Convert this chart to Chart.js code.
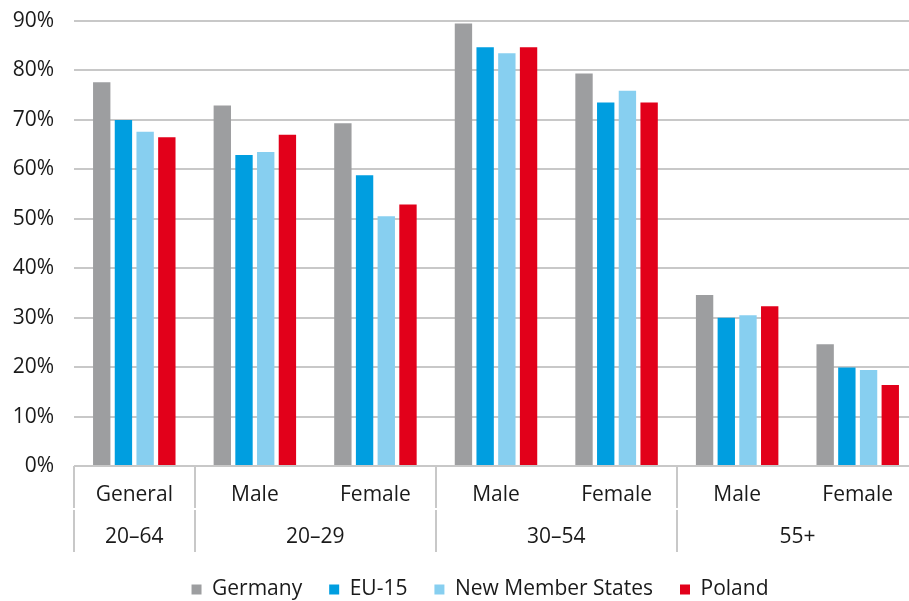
<!DOCTYPE html>
<html>
<head>
<meta charset="utf-8">
<script src="https://cdn.jsdelivr.net/npm/chart.js@4/dist/chart.umd.min.js"></script>
<style>
  html, body { margin: 0; padding: 0; background: #fff; overflow: hidden; }
  #wrap { width: 909px; height: 601px; overflow: hidden; }
  canvas { display: block; }
</style>
</head>
<body>
<div id="wrap"><canvas id="c" width="918" height="601"></canvas></div>
<script>
// Employment rate by age group and sex
const categories = ['General', 'Male', 'Female', 'Male', 'Female', 'Male', 'Female'];
const groupLabels = ['20–64', '20–29', '30–54', '55+'];
const groupSpans = [1, 2, 2, 2];
const yTicks = [0, 10, 20, 30, 40, 50, 60, 70, 80, 90];

const germany = [77.6, 72.9, 69.3, 89.5, 79.4, 34.6, 24.6];
const eu15    = [70.0, 62.9, 58.8, 84.7, 73.5, 30.0, 19.9];
const nms     = [67.6, 63.5, 50.5, 83.5, 75.9, 30.5, 19.4];
const poland  = [66.5, 67.0, 52.9, 84.7, 73.5, 32.3, 16.4];

const FONT = '"Open Sans", "Noto Sans", sans-serif';
const FONT_SIZE = 21;
const TEXT = '#1a1a1a';
const GRID = '#c8c8c8';

// Second row of the x axis: age-group labels and separators
const groupAxis = {
  id: 'groupAxis',
  afterLayout(chart) {
    // centre the legend a little to the right of the canvas middle
    if (chart.legend) chart.legend.left = 42;
  },
  afterDraw(chart) {
    const { ctx, chartArea } = chart;
    const x = chart.scales.x;
    const top = chartArea.bottom;
    ctx.save();
    ctx.strokeStyle = GRID;
    ctx.lineWidth = 2;
    let start = 0;
    const bounds = [0];
    groupSpans.forEach(s => { start += s; bounds.push(start); });
    bounds.forEach(b => {
      const px = Math.round(x.getPixelForValue(b - 0.5));
      ctx.beginPath();
      ctx.moveTo(px, top);
      ctx.lineTo(px, top + 42);
      ctx.moveTo(px, top + 44);
      ctx.lineTo(px, top + 86);
      ctx.stroke();
    });
    ctx.fillStyle = TEXT;
    ctx.font = FONT_SIZE + 'px ' + FONT;
    ctx.textAlign = 'center';
    ctx.textBaseline = 'middle';
    groupLabels.forEach((g, i) => {
      const a = x.getPixelForValue(bounds[i] - 0.5);
      const b = x.getPixelForValue(bounds[i + 1] - 0.5);
      ctx.fillText(g, (a + b) / 2, top + 71);
    });
    ctx.restore();
  }
};

new Chart(document.getElementById('c'), {
  type: 'bar',
  data: {
    labels: categories,
    datasets: [
      { label: 'Germany', data: germany, backgroundColor: '#9d9ea0' },
      { label: 'EU-15', data: eu15, backgroundColor: '#009ee0' },
      { label: 'New Member States', data: nms, backgroundColor: '#87cff0' },
      { label: 'Poland', data: poland, backgroundColor: '#e2001a' }
    ]
  },
  options: {
    responsive: false,
    animation: false,
    datasets: { bar: { categoryPercentage: 0.72, barPercentage: 0.8 } },
    layout: { padding: { top: 21, right: 0, left: 0, bottom: -9 } },
    plugins: {
      tooltip: { enabled: false },
      legend: {
        position: 'bottom',
        labels: {
          usePointStyle: true,
          pointStyle: 'rect',
          boxWidth: 10,
          boxHeight: 10,
          padding: 27,
          color: TEXT,
          font: { family: FONT, size: FONT_SIZE }
        }
      }
    },
    scales: {
      x: {
        grid: { display: false, drawTicks: false },
        border: { display: false },
        ticks: { color: TEXT, font: { family: FONT, size: FONT_SIZE }, padding: 16, maxRotation: 0 },
        afterFit(s) { s.height = 86; s.paddingLeft = 0; s.paddingRight = 0; }
      },
      y: {
        min: 0,
        max: 90,
        grid: { color: GRID, lineWidth: 2, drawTicks: false },
        border: { display: false },
        afterBuildTicks(s) { s.ticks = yTicks.map(v => ({ value: v })); },
        ticks: {
          color: TEXT,
          font: { family: FONT, size: FONT_SIZE },
          padding: 20,
          callback: v => v + '%'
        },
        afterFit(s) { s.width = 74; s.paddingTop = 0; s.paddingBottom = 0; }
      }
    }
  },
  plugins: [groupAxis]
});
</script>
</body>
</html>
